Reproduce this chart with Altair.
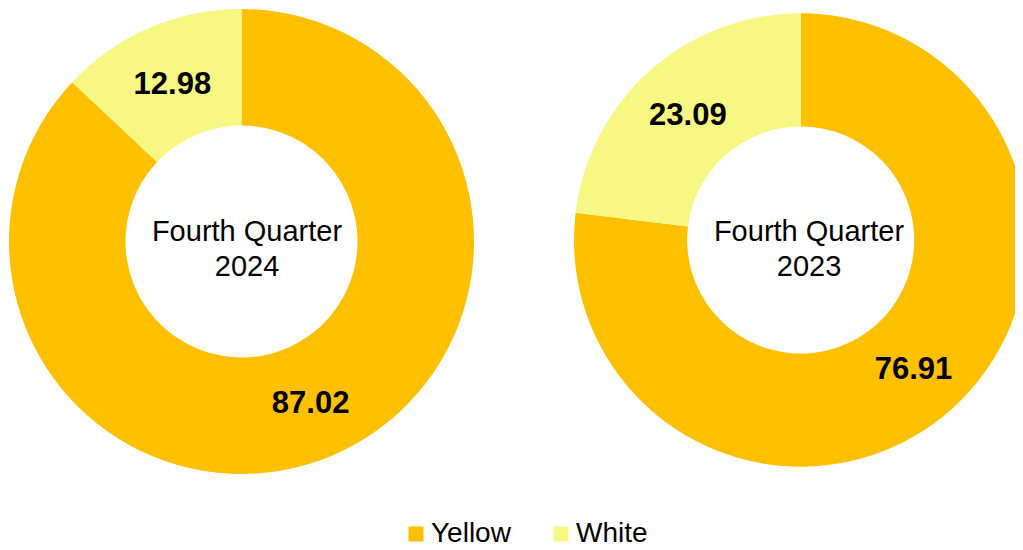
import altair as alt
import pandas as pd

FONT = "Liberation Sans"

categories = ["Yellow", "White"]
colors = ["#FFC000", "#F7F783"]
values_2024 = [87.02, 12.98]
values_2023 = [76.91, 23.09]
labels_2024 = ["87.02", "12.98"]
labels_2023 = ["76.91", "23.09"]
center_2024 = "Fourth Quarter\n2024"
center_2023 = "Fourth Quarter\n2023"

color_enc = alt.Color(
    "category:N",
    scale=alt.Scale(domain=categories, range=colors),
    legend=alt.Legend(
        title=None,
        orient="none",
        direction="horizontal",
        legendX=394,
        legendY=512,
        symbolType="square",
        symbolSize=225,
        symbolStrokeWidth=0,
        labelFont=FONT,
        labelFontSize=28,
        labelColor="black",
        labelOffset=1,
        columnPadding=36,
        padding=0,
    ),
)


def donut(vals, labs, center_text, cx, cy, R, r, tx, ty):
    df = pd.DataFrame({
        "category": categories,
        "value": vals,
        "label": labs,
        "idx": list(range(len(categories))),
    })
    base = alt.Chart(df).encode(
        theta=alt.Theta("value:Q", stack=True),
        order=alt.Order("idx:Q"),
        x=alt.value(cx),
        y=alt.value(cy),
    )
    arc = base.mark_arc(outerRadius=R, innerRadius=r).encode(color=color_enc)
    lab = base.mark_text(
        radius=(R + r) / 2, dy=3, font=FONT, fontSize=31, fontWeight="bold", color="black"
    ).encode(text="label:N", detail="category:N")
    ctr = alt.Chart(pd.DataFrame({"t": [center_text]})).mark_text(
        font=FONT, fontSize=29, color="black", lineBreak="\n", lineHeight=35,
        baseline="middle", align="center",
    ).encode(text="t:N", x=alt.value(tx), y=alt.value(ty))
    return [arc, lab, ctr]


layers = donut(values_2024, labels_2024, center_2024, 233.5, 233.5, 232.5, 116, 239, 224) + \
    donut(values_2023, labels_2023, center_2023, 792.7, 232, 226.7, 113.5, 801, 224)

chart = alt.layer(*layers).properties(
    width=1007, height=542,
    autosize=alt.AutoSizeParams(type="none"),
    padding=0,
).configure_view(stroke=None)

chart.save("out.html", embed_options={"renderer": "svg", "actions": False})
